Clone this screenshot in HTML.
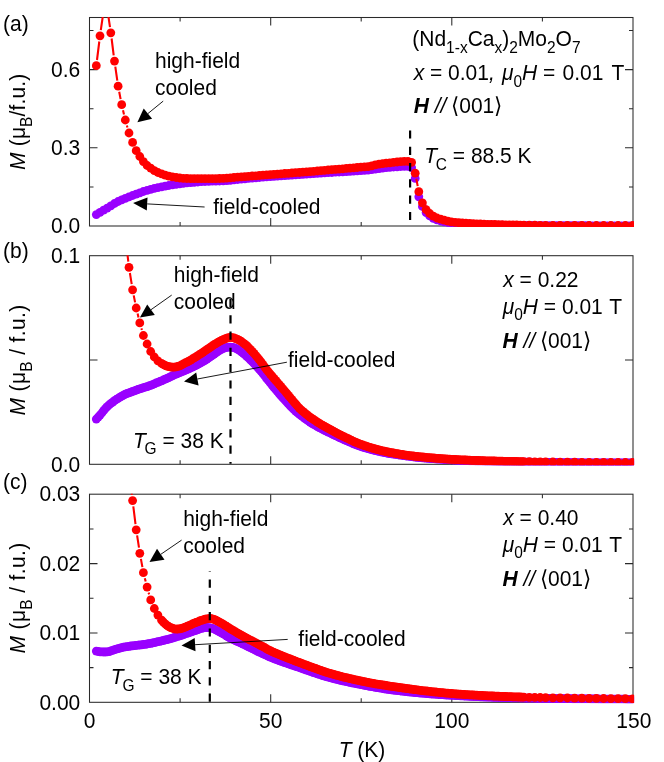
<!DOCTYPE html>
<html><head><meta charset="utf-8"><title>M-T</title>
<style>html,body{margin:0;padding:0;background:#fff}body{width:664px;height:762px;overflow:hidden;font-family:"Liberation Sans",sans-serif}</style>
</head><body>
<svg width="664" height="762" viewBox="0 0 664 762" style="display:block;will-change:transform">
<rect width="664" height="762" fill="#fff"/>
<defs>
<clipPath id="c0"><rect x="89.00" y="17.00" width="545.10" height="210.00"/></clipPath>
<clipPath id="c1"><rect x="89.00" y="255.20" width="545.10" height="210.10"/></clipPath>
<clipPath id="c2"><rect x="89.00" y="493.70" width="545.10" height="209.60"/></clipPath>
</defs>
<g stroke="#2a2a2a" stroke-width="1.05" fill="none"><rect x="89.5" y="17.5" width="543.5" height="208.5" fill="none"/><path d="M180.1 226.0v-4.0M180.1 17.5v4.0"/><path d="M270.7 226.0v-8.0M270.7 17.5v8.0"/><path d="M361.2 226.0v-4.0M361.2 17.5v4.0"/><path d="M451.8 226.0v-8.0M451.8 17.5v8.0"/><path d="M542.4 226.0v-4.0M542.4 17.5v4.0"/><path d="M89.5 147.8h8M633.0 147.8h-8"/><path d="M89.5 69.6h8M633.0 69.6h-8"/><path d="M89.5 186.9h4M633.0 186.9h-4"/><path d="M89.5 108.7h4M633.0 108.7h-4"/><path d="M89.5 30.5h4M633.0 30.5h-4"/></g>
<g stroke="#2a2a2a" stroke-width="1.05" fill="none"><rect x="89.5" y="255.7" width="543.5" height="208.6" fill="none"/><path d="M180.1 464.3v-4.0M180.1 255.7v4.0"/><path d="M270.7 464.3v-8.0M270.7 255.7v8.0"/><path d="M361.2 464.3v-4.0M361.2 255.7v4.0"/><path d="M451.8 464.3v-8.0M451.8 255.7v8.0"/><path d="M542.4 464.3v-4.0M542.4 255.7v4.0"/><path d="M89.5 360.0h8M633.0 360.0h-8"/></g>
<g stroke="#2a2a2a" stroke-width="1.05" fill="none"><rect x="89.5" y="494.2" width="543.5" height="208.1" fill="none"/><path d="M180.1 702.3v-4.0M180.1 494.2v4.0"/><path d="M270.7 702.3v-8.0M270.7 494.2v8.0"/><path d="M361.2 702.3v-4.0M361.2 494.2v4.0"/><path d="M451.8 702.3v-8.0M451.8 494.2v8.0"/><path d="M542.4 702.3v-4.0M542.4 494.2v4.0"/><path d="M89.5 632.9h8M633.0 632.9h-8"/><path d="M89.5 563.6h8M633.0 563.6h-8"/><path d="M89.5 667.6h4M633.0 667.6h-4"/><path d="M89.5 598.2h4M633.0 598.2h-4"/><path d="M89.5 528.9h4M633.0 528.9h-4"/></g>
<g clip-path="url(#c0)">
<g fill="#9900ff"><circle cx="96.3" cy="214.6" r="4.4"/><circle cx="100.0" cy="212.3" r="4.4"/><circle cx="103.6" cy="210.1" r="4.4"/><circle cx="107.2" cy="208.1" r="4.4"/><circle cx="110.8" cy="205.9" r="4.4"/><circle cx="114.5" cy="203.5" r="4.4"/><circle cx="118.1" cy="201.5" r="4.4"/><circle cx="121.7" cy="199.8" r="4.4"/><circle cx="125.3" cy="198.3" r="4.4"/><circle cx="129.0" cy="196.8" r="4.4"/><circle cx="132.6" cy="195.5" r="4.4"/><circle cx="136.2" cy="194.1" r="4.4"/><circle cx="139.8" cy="192.8" r="4.4"/><circle cx="143.4" cy="191.5" r="4.4"/><circle cx="147.1" cy="190.3" r="4.4"/><circle cx="150.7" cy="189.3" r="4.4"/><circle cx="154.3" cy="188.4" r="4.4"/><circle cx="157.9" cy="187.6" r="4.4"/><circle cx="161.6" cy="186.9" r="4.4"/><circle cx="165.2" cy="186.2" r="4.4"/><circle cx="168.8" cy="185.5" r="4.4"/><circle cx="172.4" cy="184.9" r="4.4"/><circle cx="176.1" cy="184.3" r="4.4"/><circle cx="179.7" cy="183.8" r="4.4"/><circle cx="183.3" cy="183.3" r="4.4"/><circle cx="186.9" cy="182.9" r="4.4"/><circle cx="190.6" cy="182.6" r="4.4"/><circle cx="194.2" cy="182.3" r="4.4"/><circle cx="197.8" cy="182.0" r="4.4"/><circle cx="201.4" cy="181.7" r="4.4"/><circle cx="205.0" cy="181.5" r="4.4"/><circle cx="208.7" cy="181.4" r="4.4"/><circle cx="212.3" cy="181.2" r="4.4"/><circle cx="215.9" cy="181.1" r="4.4"/><circle cx="219.5" cy="181.0" r="4.4"/><circle cx="223.2" cy="180.8" r="4.4"/><circle cx="226.8" cy="180.6" r="4.4"/><circle cx="230.4" cy="180.3" r="4.4"/><circle cx="234.0" cy="179.9" r="4.4"/><circle cx="237.7" cy="179.5" r="4.4"/><circle cx="241.3" cy="179.1" r="4.4"/><circle cx="244.9" cy="178.8" r="4.4"/><circle cx="248.5" cy="178.4" r="4.4"/><circle cx="252.2" cy="178.1" r="4.4"/><circle cx="255.8" cy="177.8" r="4.4"/><circle cx="259.4" cy="177.5" r="4.4"/><circle cx="263.0" cy="177.2" r="4.4"/><circle cx="266.6" cy="176.9" r="4.4"/><circle cx="270.3" cy="176.6" r="4.4"/><circle cx="273.9" cy="176.4" r="4.4"/><circle cx="277.5" cy="176.1" r="4.4"/><circle cx="281.1" cy="175.8" r="4.4"/><circle cx="284.8" cy="175.6" r="4.4"/><circle cx="288.4" cy="175.3" r="4.4"/><circle cx="292.0" cy="175.1" r="4.4"/><circle cx="295.6" cy="174.8" r="4.4"/><circle cx="299.3" cy="174.6" r="4.4"/><circle cx="302.9" cy="174.3" r="4.4"/><circle cx="306.5" cy="174.1" r="4.4"/><circle cx="310.1" cy="173.9" r="4.4"/><circle cx="313.7" cy="173.6" r="4.4"/><circle cx="317.4" cy="173.4" r="4.4"/><circle cx="321.0" cy="173.2" r="4.4"/><circle cx="324.6" cy="172.9" r="4.4"/><circle cx="328.2" cy="172.7" r="4.4"/><circle cx="331.9" cy="172.5" r="4.4"/><circle cx="335.5" cy="172.2" r="4.4"/><circle cx="339.1" cy="172.0" r="4.4"/><circle cx="342.7" cy="171.8" r="4.4"/><circle cx="346.4" cy="171.6" r="4.4"/><circle cx="350.0" cy="171.4" r="4.4"/><circle cx="353.6" cy="171.2" r="4.4"/><circle cx="357.2" cy="170.9" r="4.4"/><circle cx="360.9" cy="170.7" r="4.4"/><circle cx="364.5" cy="170.4" r="4.4"/><circle cx="368.1" cy="170.2" r="4.4"/><circle cx="371.7" cy="169.7" r="4.4"/><circle cx="375.3" cy="169.1" r="4.4"/><circle cx="379.0" cy="168.6" r="4.4"/><circle cx="382.6" cy="168.1" r="4.4"/><circle cx="386.2" cy="167.7" r="4.4"/><circle cx="389.8" cy="167.3" r="4.4"/><circle cx="393.5" cy="167.0" r="4.4"/><circle cx="397.1" cy="166.8" r="4.4"/><circle cx="400.7" cy="166.5" r="4.4"/><circle cx="404.3" cy="166.4" r="4.4"/><circle cx="408.0" cy="166.3" r="4.4"/><circle cx="411.6" cy="167.7" r="4.4"/><circle cx="415.2" cy="178.4" r="4.4"/><circle cx="418.8" cy="196.8" r="4.4"/><circle cx="422.4" cy="206.5" r="4.4"/><circle cx="426.1" cy="212.6" r="4.4"/><circle cx="429.7" cy="215.9" r="4.4"/><circle cx="433.3" cy="218.3" r="4.4"/><circle cx="436.9" cy="219.9" r="4.4"/><circle cx="440.6" cy="221.0" r="4.4"/><circle cx="444.2" cy="221.8" r="4.4"/><circle cx="447.8" cy="222.5" r="4.4"/><circle cx="451.4" cy="223.1" r="4.4"/><circle cx="455.1" cy="223.4" r="4.4"/><circle cx="458.7" cy="223.7" r="4.4"/><circle cx="462.3" cy="223.9" r="4.4"/><circle cx="465.9" cy="224.1" r="4.4"/><circle cx="469.6" cy="224.3" r="4.4"/><circle cx="473.2" cy="224.5" r="4.4"/><circle cx="476.8" cy="224.6" r="4.4"/><circle cx="480.4" cy="224.7" r="4.4"/><circle cx="484.0" cy="224.8" r="4.4"/><circle cx="487.7" cy="224.9" r="4.4"/><circle cx="491.3" cy="225.0" r="4.4"/><circle cx="494.9" cy="225.1" r="4.4"/><circle cx="498.5" cy="225.1" r="4.4"/><circle cx="502.2" cy="225.2" r="4.4"/><circle cx="505.8" cy="225.3" r="4.4"/><circle cx="509.4" cy="225.3" r="4.4"/><circle cx="513.0" cy="225.4" r="4.4"/><circle cx="516.7" cy="225.4" r="4.4"/><circle cx="520.3" cy="225.5" r="4.4"/><circle cx="523.9" cy="225.5" r="4.4"/><circle cx="527.5" cy="225.5" r="4.4"/><circle cx="531.1" cy="225.5" r="4.4"/><circle cx="534.8" cy="225.5" r="4.4"/><circle cx="538.4" cy="225.6" r="4.4"/><circle cx="542.0" cy="225.6" r="4.4"/><circle cx="545.6" cy="225.6" r="4.4"/><circle cx="549.3" cy="225.6" r="4.4"/><circle cx="552.9" cy="225.6" r="4.4"/><circle cx="556.5" cy="225.6" r="4.4"/><circle cx="560.1" cy="225.7" r="4.4"/><circle cx="563.8" cy="225.7" r="4.4"/><circle cx="567.4" cy="225.7" r="4.4"/><circle cx="571.0" cy="225.7" r="4.4"/><circle cx="574.6" cy="225.7" r="4.4"/><circle cx="578.3" cy="225.7" r="4.4"/><circle cx="581.9" cy="225.7" r="4.4"/><circle cx="585.5" cy="225.7" r="4.4"/><circle cx="589.1" cy="225.7" r="4.4"/><circle cx="592.7" cy="225.8" r="4.4"/><circle cx="596.4" cy="225.8" r="4.4"/><circle cx="600.0" cy="225.8" r="4.4"/><circle cx="603.6" cy="225.8" r="4.4"/><circle cx="607.2" cy="225.8" r="4.4"/><circle cx="610.9" cy="225.8" r="4.4"/><circle cx="614.5" cy="225.8" r="4.4"/><circle cx="618.1" cy="225.8" r="4.4"/><circle cx="621.7" cy="225.8" r="4.4"/><circle cx="625.4" cy="225.8" r="4.4"/><circle cx="629.0" cy="225.8" r="4.4"/><circle cx="632.6" cy="225.8" r="4.4"/></g>
<path d="M97.0 60.0L99.3 41.5M100.8 30.2L102.8 16.4M108.1 14.4L110.0 27.2M111.6 38.5L113.7 55.4M115.3 66.7L117.3 80.6M119.2 91.8L120.6 99.1M123.0 110.2L124.0 114.5M126.9 125.5L127.4 127.5M416.3 178.8L417.7 186.1" fill="none" stroke="#ff0000" stroke-width="2.1"/>
<g fill="#ff0000"><circle cx="96.3" cy="65.7" r="4.4"/><circle cx="100.0" cy="35.8" r="4.4"/><circle cx="103.6" cy="10.8" r="4.4"/><circle cx="107.2" cy="8.8" r="4.4"/><circle cx="110.8" cy="32.8" r="4.4"/><circle cx="114.5" cy="61.1" r="4.4"/><circle cx="118.1" cy="86.2" r="4.4"/><circle cx="121.7" cy="104.7" r="4.4"/><circle cx="125.3" cy="120.0" r="4.4"/><circle cx="129.0" cy="133.0" r="4.4"/><circle cx="132.6" cy="142.4" r="4.4"/><circle cx="136.2" cy="150.7" r="4.4"/><circle cx="139.8" cy="156.5" r="4.4"/><circle cx="143.4" cy="161.6" r="4.4"/><circle cx="147.1" cy="165.5" r="4.4"/><circle cx="150.7" cy="168.1" r="4.4"/><circle cx="154.3" cy="170.6" r="4.4"/><circle cx="157.9" cy="172.5" r="4.4"/><circle cx="161.6" cy="173.9" r="4.4"/><circle cx="165.2" cy="175.1" r="4.4"/><circle cx="168.8" cy="176.1" r="4.4"/><circle cx="172.4" cy="176.9" r="4.4"/><circle cx="176.1" cy="177.5" r="4.4"/><circle cx="179.7" cy="178.0" r="4.4"/><circle cx="183.3" cy="178.3" r="4.4"/><circle cx="186.9" cy="178.5" r="4.4"/><circle cx="190.6" cy="178.6" r="4.4"/><circle cx="194.2" cy="178.7" r="4.4"/><circle cx="197.8" cy="178.7" r="4.4"/><circle cx="201.4" cy="178.7" r="4.4"/><circle cx="205.0" cy="178.7" r="4.4"/><circle cx="208.7" cy="178.7" r="4.4"/><circle cx="212.3" cy="178.7" r="4.4"/><circle cx="215.9" cy="178.7" r="4.4"/><circle cx="219.5" cy="178.5" r="4.4"/><circle cx="223.2" cy="178.3" r="4.4"/><circle cx="226.8" cy="178.1" r="4.4"/><circle cx="230.4" cy="177.8" r="4.4"/><circle cx="234.0" cy="177.5" r="4.4"/><circle cx="237.7" cy="177.2" r="4.4"/><circle cx="241.3" cy="176.9" r="4.4"/><circle cx="244.9" cy="176.6" r="4.4"/><circle cx="248.5" cy="176.3" r="4.4"/><circle cx="252.2" cy="176.0" r="4.4"/><circle cx="255.8" cy="175.8" r="4.4"/><circle cx="259.4" cy="175.5" r="4.4"/><circle cx="263.0" cy="175.2" r="4.4"/><circle cx="266.6" cy="174.9" r="4.4"/><circle cx="270.3" cy="174.6" r="4.4"/><circle cx="273.9" cy="174.4" r="4.4"/><circle cx="277.5" cy="174.1" r="4.4"/><circle cx="281.1" cy="173.8" r="4.4"/><circle cx="284.8" cy="173.5" r="4.4"/><circle cx="288.4" cy="173.3" r="4.4"/><circle cx="292.0" cy="173.0" r="4.4"/><circle cx="295.6" cy="172.7" r="4.4"/><circle cx="299.3" cy="172.5" r="4.4"/><circle cx="302.9" cy="172.2" r="4.4"/><circle cx="306.5" cy="171.9" r="4.4"/><circle cx="310.1" cy="171.6" r="4.4"/><circle cx="313.7" cy="171.3" r="4.4"/><circle cx="317.4" cy="171.0" r="4.4"/><circle cx="321.0" cy="170.7" r="4.4"/><circle cx="324.6" cy="170.3" r="4.4"/><circle cx="328.2" cy="170.0" r="4.4"/><circle cx="331.9" cy="169.7" r="4.4"/><circle cx="335.5" cy="169.4" r="4.4"/><circle cx="339.1" cy="169.1" r="4.4"/><circle cx="342.7" cy="168.8" r="4.4"/><circle cx="346.4" cy="168.4" r="4.4"/><circle cx="350.0" cy="168.1" r="4.4"/><circle cx="353.6" cy="167.8" r="4.4"/><circle cx="357.2" cy="167.5" r="4.4"/><circle cx="360.9" cy="167.2" r="4.4"/><circle cx="364.5" cy="166.9" r="4.4"/><circle cx="368.1" cy="166.6" r="4.4"/><circle cx="371.7" cy="165.8" r="4.4"/><circle cx="375.3" cy="164.9" r="4.4"/><circle cx="379.0" cy="164.2" r="4.4"/><circle cx="382.6" cy="163.7" r="4.4"/><circle cx="386.2" cy="163.2" r="4.4"/><circle cx="389.8" cy="162.8" r="4.4"/><circle cx="393.5" cy="162.4" r="4.4"/><circle cx="397.1" cy="162.0" r="4.4"/><circle cx="400.7" cy="161.7" r="4.4"/><circle cx="404.3" cy="161.4" r="4.4"/><circle cx="408.0" cy="161.3" r="4.4"/><circle cx="411.6" cy="162.3" r="4.4"/><circle cx="415.2" cy="173.2" r="4.4"/><circle cx="418.8" cy="191.7" r="4.4"/><circle cx="422.4" cy="202.8" r="4.4"/><circle cx="426.1" cy="209.7" r="4.4"/><circle cx="429.7" cy="213.5" r="4.4"/><circle cx="433.3" cy="216.1" r="4.4"/><circle cx="436.9" cy="218.0" r="4.4"/><circle cx="440.6" cy="219.2" r="4.4"/><circle cx="444.2" cy="220.2" r="4.4"/><circle cx="447.8" cy="221.2" r="4.4"/><circle cx="451.4" cy="221.9" r="4.4"/><circle cx="455.1" cy="222.4" r="4.4"/><circle cx="458.7" cy="222.7" r="4.4"/><circle cx="462.3" cy="223.0" r="4.4"/><circle cx="465.9" cy="223.2" r="4.4"/><circle cx="469.6" cy="223.5" r="4.4"/><circle cx="473.2" cy="223.7" r="4.4"/><circle cx="476.8" cy="223.9" r="4.4"/><circle cx="480.4" cy="224.0" r="4.4"/><circle cx="484.0" cy="224.1" r="4.4"/><circle cx="487.7" cy="224.3" r="4.4"/><circle cx="491.3" cy="224.4" r="4.4"/><circle cx="494.9" cy="224.5" r="4.4"/><circle cx="498.5" cy="224.6" r="4.4"/><circle cx="502.2" cy="224.7" r="4.4"/><circle cx="505.8" cy="224.8" r="4.4"/><circle cx="509.4" cy="224.9" r="4.4"/><circle cx="513.0" cy="225.0" r="4.4"/><circle cx="516.7" cy="225.0" r="4.4"/><circle cx="520.3" cy="225.1" r="4.4"/><circle cx="523.9" cy="225.2" r="4.4"/><circle cx="529.3" cy="225.2" r="4.4"/><circle cx="534.8" cy="225.2" r="4.4"/><circle cx="540.2" cy="225.3" r="4.4"/><circle cx="545.6" cy="225.3" r="4.4"/><circle cx="552.9" cy="225.3" r="4.4"/><circle cx="560.1" cy="225.4" r="4.4"/><circle cx="567.4" cy="225.4" r="4.4"/><circle cx="574.6" cy="225.4" r="4.4"/><circle cx="581.9" cy="225.4" r="4.4"/><circle cx="589.1" cy="225.5" r="4.4"/><circle cx="596.4" cy="225.5" r="4.4"/><circle cx="603.6" cy="225.5" r="4.4"/><circle cx="610.9" cy="225.5" r="4.4"/><circle cx="618.1" cy="225.5" r="4.4"/><circle cx="625.4" cy="225.5" r="4.4"/><circle cx="632.6" cy="225.5" r="4.4"/></g>
</g>
<g clip-path="url(#c1)">
<g fill="#9900ff"><circle cx="96.3" cy="419.1" r="4.4"/><circle cx="98.2" cy="417.1" r="4.4"/><circle cx="100.0" cy="415.1" r="4.4"/><circle cx="101.8" cy="413.0" r="4.4"/><circle cx="103.6" cy="410.7" r="4.4"/><circle cx="105.4" cy="408.5" r="4.4"/><circle cx="107.2" cy="406.7" r="4.4"/><circle cx="109.0" cy="405.0" r="4.4"/><circle cx="110.8" cy="403.5" r="4.4"/><circle cx="112.7" cy="402.1" r="4.4"/><circle cx="114.5" cy="400.7" r="4.4"/><circle cx="116.3" cy="399.5" r="4.4"/><circle cx="118.1" cy="398.3" r="4.4"/><circle cx="119.9" cy="397.1" r="4.4"/><circle cx="121.7" cy="396.1" r="4.4"/><circle cx="123.5" cy="395.1" r="4.4"/><circle cx="125.3" cy="394.2" r="4.4"/><circle cx="127.1" cy="393.5" r="4.4"/><circle cx="129.0" cy="392.8" r="4.4"/><circle cx="130.8" cy="392.1" r="4.4"/><circle cx="132.6" cy="391.4" r="4.4"/><circle cx="134.4" cy="390.8" r="4.4"/><circle cx="136.2" cy="390.1" r="4.4"/><circle cx="138.0" cy="389.5" r="4.4"/><circle cx="139.8" cy="388.9" r="4.4"/><circle cx="141.6" cy="388.3" r="4.4"/><circle cx="143.4" cy="387.7" r="4.4"/><circle cx="145.3" cy="387.2" r="4.4"/><circle cx="147.1" cy="386.6" r="4.4"/><circle cx="148.9" cy="386.0" r="4.4"/><circle cx="150.7" cy="385.3" r="4.4"/><circle cx="152.5" cy="384.6" r="4.4"/><circle cx="154.3" cy="383.8" r="4.4"/><circle cx="156.1" cy="383.0" r="4.4"/><circle cx="157.9" cy="382.3" r="4.4"/><circle cx="159.8" cy="381.5" r="4.4"/><circle cx="161.6" cy="380.8" r="4.4"/><circle cx="163.4" cy="380.0" r="4.4"/><circle cx="165.2" cy="379.2" r="4.4"/><circle cx="167.0" cy="378.4" r="4.4"/><circle cx="168.8" cy="377.6" r="4.4"/><circle cx="170.6" cy="376.7" r="4.4"/><circle cx="172.4" cy="375.8" r="4.4"/><circle cx="174.2" cy="374.9" r="4.4"/><circle cx="176.1" cy="374.1" r="4.4"/><circle cx="177.9" cy="373.4" r="4.4"/><circle cx="179.7" cy="372.6" r="4.4"/><circle cx="181.5" cy="371.9" r="4.4"/><circle cx="183.3" cy="371.2" r="4.4"/><circle cx="185.1" cy="370.4" r="4.4"/><circle cx="186.9" cy="369.6" r="4.4"/><circle cx="188.7" cy="368.8" r="4.4"/><circle cx="190.6" cy="368.0" r="4.4"/><circle cx="192.4" cy="367.1" r="4.4"/><circle cx="194.2" cy="366.2" r="4.4"/><circle cx="196.0" cy="365.3" r="4.4"/><circle cx="197.8" cy="364.4" r="4.4"/><circle cx="199.6" cy="363.5" r="4.4"/><circle cx="201.4" cy="362.5" r="4.4"/><circle cx="203.2" cy="361.4" r="4.4"/><circle cx="205.0" cy="360.3" r="4.4"/><circle cx="206.9" cy="359.1" r="4.4"/><circle cx="208.7" cy="357.9" r="4.4"/><circle cx="210.5" cy="356.7" r="4.4"/><circle cx="212.3" cy="355.5" r="4.4"/><circle cx="214.1" cy="354.2" r="4.4"/><circle cx="215.9" cy="353.0" r="4.4"/><circle cx="217.7" cy="351.7" r="4.4"/><circle cx="219.5" cy="350.4" r="4.4"/><circle cx="221.4" cy="349.3" r="4.4"/><circle cx="223.2" cy="348.5" r="4.4"/><circle cx="225.0" cy="347.9" r="4.4"/><circle cx="226.8" cy="347.4" r="4.4"/><circle cx="228.6" cy="347.2" r="4.4"/><circle cx="230.4" cy="347.1" r="4.4"/><circle cx="232.2" cy="347.3" r="4.4"/><circle cx="234.0" cy="347.7" r="4.4"/><circle cx="235.8" cy="348.4" r="4.4"/><circle cx="237.7" cy="349.4" r="4.4"/><circle cx="239.5" cy="350.5" r="4.4"/><circle cx="241.3" cy="351.8" r="4.4"/><circle cx="243.1" cy="353.2" r="4.4"/><circle cx="244.9" cy="354.7" r="4.4"/><circle cx="246.7" cy="356.3" r="4.4"/><circle cx="248.5" cy="358.0" r="4.4"/><circle cx="250.3" cy="359.8" r="4.4"/><circle cx="252.2" cy="361.6" r="4.4"/><circle cx="254.0" cy="363.5" r="4.4"/><circle cx="255.8" cy="365.4" r="4.4"/><circle cx="257.6" cy="367.4" r="4.4"/><circle cx="259.4" cy="369.4" r="4.4"/><circle cx="261.2" cy="371.5" r="4.4"/><circle cx="263.0" cy="373.7" r="4.4"/><circle cx="264.8" cy="376.0" r="4.4"/><circle cx="266.6" cy="378.4" r="4.4"/><circle cx="268.5" cy="380.7" r="4.4"/><circle cx="270.3" cy="382.9" r="4.4"/><circle cx="272.1" cy="385.2" r="4.4"/><circle cx="273.9" cy="387.4" r="4.4"/><circle cx="275.7" cy="389.5" r="4.4"/><circle cx="277.5" cy="391.7" r="4.4"/><circle cx="279.3" cy="393.8" r="4.4"/><circle cx="281.1" cy="395.9" r="4.4"/><circle cx="282.9" cy="397.9" r="4.4"/><circle cx="284.8" cy="400.0" r="4.4"/><circle cx="286.6" cy="402.0" r="4.4"/><circle cx="288.4" cy="403.9" r="4.4"/><circle cx="290.2" cy="405.8" r="4.4"/><circle cx="292.0" cy="407.7" r="4.4"/><circle cx="293.8" cy="409.5" r="4.4"/><circle cx="295.6" cy="411.1" r="4.4"/><circle cx="297.4" cy="412.7" r="4.4"/><circle cx="299.3" cy="414.2" r="4.4"/><circle cx="301.1" cy="415.6" r="4.4"/><circle cx="302.9" cy="417.0" r="4.4"/><circle cx="304.7" cy="418.3" r="4.4"/><circle cx="306.5" cy="419.6" r="4.4"/><circle cx="308.3" cy="420.9" r="4.4"/><circle cx="310.1" cy="422.1" r="4.4"/><circle cx="311.9" cy="423.3" r="4.4"/><circle cx="313.7" cy="424.4" r="4.4"/><circle cx="315.6" cy="425.5" r="4.4"/><circle cx="317.4" cy="426.6" r="4.4"/><circle cx="319.2" cy="427.6" r="4.4"/><circle cx="321.0" cy="428.5" r="4.4"/><circle cx="322.8" cy="429.4" r="4.4"/><circle cx="324.6" cy="430.4" r="4.4"/><circle cx="326.4" cy="431.2" r="4.4"/><circle cx="328.2" cy="432.1" r="4.4"/><circle cx="330.1" cy="433.0" r="4.4"/><circle cx="331.9" cy="433.9" r="4.4"/><circle cx="333.7" cy="434.8" r="4.4"/><circle cx="335.5" cy="435.7" r="4.4"/><circle cx="337.3" cy="436.5" r="4.4"/><circle cx="339.1" cy="437.3" r="4.4"/><circle cx="340.9" cy="438.2" r="4.4"/><circle cx="342.7" cy="439.0" r="4.4"/><circle cx="344.5" cy="439.8" r="4.4"/><circle cx="346.4" cy="440.6" r="4.4"/><circle cx="348.2" cy="441.4" r="4.4"/><circle cx="350.0" cy="442.2" r="4.4"/><circle cx="351.8" cy="443.0" r="4.4"/><circle cx="353.6" cy="443.8" r="4.4"/><circle cx="355.4" cy="444.5" r="4.4"/><circle cx="357.2" cy="445.2" r="4.4"/><circle cx="359.0" cy="445.9" r="4.4"/><circle cx="360.9" cy="446.5" r="4.4"/><circle cx="362.7" cy="447.1" r="4.4"/><circle cx="364.5" cy="447.6" r="4.4"/><circle cx="366.3" cy="448.2" r="4.4"/><circle cx="368.1" cy="448.7" r="4.4"/><circle cx="369.9" cy="449.2" r="4.4"/><circle cx="371.7" cy="449.7" r="4.4"/><circle cx="373.5" cy="450.1" r="4.4"/><circle cx="375.3" cy="450.6" r="4.4"/><circle cx="377.2" cy="451.0" r="4.4"/><circle cx="379.0" cy="451.4" r="4.4"/><circle cx="380.8" cy="451.8" r="4.4"/><circle cx="382.6" cy="452.2" r="4.4"/><circle cx="384.4" cy="452.6" r="4.4"/><circle cx="386.2" cy="452.9" r="4.4"/><circle cx="388.0" cy="453.3" r="4.4"/><circle cx="389.8" cy="453.6" r="4.4"/><circle cx="391.6" cy="453.9" r="4.4"/><circle cx="393.5" cy="454.2" r="4.4"/><circle cx="395.3" cy="454.4" r="4.4"/><circle cx="397.1" cy="454.7" r="4.4"/><circle cx="398.9" cy="455.0" r="4.4"/><circle cx="400.7" cy="455.2" r="4.4"/><circle cx="402.5" cy="455.5" r="4.4"/><circle cx="404.3" cy="455.7" r="4.4"/><circle cx="406.1" cy="456.0" r="4.4"/><circle cx="408.0" cy="456.2" r="4.4"/><circle cx="409.8" cy="456.4" r="4.4"/><circle cx="411.6" cy="456.6" r="4.4"/><circle cx="413.4" cy="456.9" r="4.4"/><circle cx="415.2" cy="457.1" r="4.4"/><circle cx="417.0" cy="457.3" r="4.4"/><circle cx="418.8" cy="457.5" r="4.4"/><circle cx="420.6" cy="457.7" r="4.4"/><circle cx="422.4" cy="457.8" r="4.4"/><circle cx="424.3" cy="458.0" r="4.4"/><circle cx="426.1" cy="458.2" r="4.4"/><circle cx="427.9" cy="458.3" r="4.4"/><circle cx="429.7" cy="458.5" r="4.4"/><circle cx="431.5" cy="458.6" r="4.4"/><circle cx="433.3" cy="458.7" r="4.4"/><circle cx="435.1" cy="458.9" r="4.4"/><circle cx="436.9" cy="459.0" r="4.4"/><circle cx="438.8" cy="459.1" r="4.4"/><circle cx="440.6" cy="459.2" r="4.4"/><circle cx="442.4" cy="459.3" r="4.4"/><circle cx="444.2" cy="459.5" r="4.4"/><circle cx="446.0" cy="459.6" r="4.4"/><circle cx="447.8" cy="459.7" r="4.4"/><circle cx="449.6" cy="459.8" r="4.4"/><circle cx="451.4" cy="459.9" r="4.4"/><circle cx="453.2" cy="460.0" r="4.4"/><circle cx="455.1" cy="460.1" r="4.4"/><circle cx="456.9" cy="460.2" r="4.4"/><circle cx="458.7" cy="460.3" r="4.4"/><circle cx="460.5" cy="460.4" r="4.4"/><circle cx="462.3" cy="460.5" r="4.4"/><circle cx="464.1" cy="460.6" r="4.4"/><circle cx="465.9" cy="460.6" r="4.4"/><circle cx="467.7" cy="460.7" r="4.4"/><circle cx="469.6" cy="460.8" r="4.4"/><circle cx="471.4" cy="460.9" r="4.4"/><circle cx="473.2" cy="460.9" r="4.4"/><circle cx="475.0" cy="461.0" r="4.4"/><circle cx="476.8" cy="461.1" r="4.4"/><circle cx="478.6" cy="461.1" r="4.4"/><circle cx="480.4" cy="461.2" r="4.4"/><circle cx="482.2" cy="461.2" r="4.4"/><circle cx="484.0" cy="461.3" r="4.4"/><circle cx="485.9" cy="461.3" r="4.4"/><circle cx="487.7" cy="461.4" r="4.4"/><circle cx="489.5" cy="461.4" r="4.4"/><circle cx="491.3" cy="461.5" r="4.4"/><circle cx="493.1" cy="461.5" r="4.4"/><circle cx="494.9" cy="461.6" r="4.4"/><circle cx="496.7" cy="461.6" r="4.4"/><circle cx="498.5" cy="461.7" r="4.4"/><circle cx="500.3" cy="461.7" r="4.4"/><circle cx="502.2" cy="461.8" r="4.4"/><circle cx="504.0" cy="461.8" r="4.4"/><circle cx="505.8" cy="461.8" r="4.4"/><circle cx="507.6" cy="461.9" r="4.4"/><circle cx="509.4" cy="461.9" r="4.4"/><circle cx="511.2" cy="462.0" r="4.4"/><circle cx="513.0" cy="462.0" r="4.4"/><circle cx="514.8" cy="462.0" r="4.4"/><circle cx="516.7" cy="462.1" r="4.4"/><circle cx="518.5" cy="462.1" r="4.4"/><circle cx="520.3" cy="462.1" r="4.4"/><circle cx="522.1" cy="462.1" r="4.4"/><circle cx="523.9" cy="462.2" r="4.4"/><circle cx="525.7" cy="462.2" r="4.4"/><circle cx="527.5" cy="462.2" r="4.4"/><circle cx="529.3" cy="462.2" r="4.4"/><circle cx="531.1" cy="462.2" r="4.4"/><circle cx="533.0" cy="462.3" r="4.4"/><circle cx="534.8" cy="462.3" r="4.4"/><circle cx="536.6" cy="462.3" r="4.4"/><circle cx="538.4" cy="462.3" r="4.4"/><circle cx="540.2" cy="462.4" r="4.4"/><circle cx="542.0" cy="462.4" r="4.4"/><circle cx="543.8" cy="462.4" r="4.4"/><circle cx="545.6" cy="462.4" r="4.4"/><circle cx="547.5" cy="462.4" r="4.4"/><circle cx="549.3" cy="462.5" r="4.4"/><circle cx="551.1" cy="462.5" r="4.4"/><circle cx="552.9" cy="462.5" r="4.4"/><circle cx="554.7" cy="462.5" r="4.4"/><circle cx="556.5" cy="462.5" r="4.4"/><circle cx="558.3" cy="462.6" r="4.4"/><circle cx="560.1" cy="462.6" r="4.4"/><circle cx="561.9" cy="462.6" r="4.4"/><circle cx="563.8" cy="462.6" r="4.4"/><circle cx="565.6" cy="462.6" r="4.4"/><circle cx="567.4" cy="462.6" r="4.4"/><circle cx="569.2" cy="462.7" r="4.4"/><circle cx="571.0" cy="462.7" r="4.4"/><circle cx="572.8" cy="462.7" r="4.4"/><circle cx="574.6" cy="462.7" r="4.4"/><circle cx="576.4" cy="462.7" r="4.4"/><circle cx="578.3" cy="462.7" r="4.4"/><circle cx="580.1" cy="462.8" r="4.4"/><circle cx="581.9" cy="462.8" r="4.4"/><circle cx="583.7" cy="462.8" r="4.4"/><circle cx="585.5" cy="462.8" r="4.4"/><circle cx="587.3" cy="462.8" r="4.4"/><circle cx="589.1" cy="462.8" r="4.4"/><circle cx="590.9" cy="462.8" r="4.4"/><circle cx="592.7" cy="462.9" r="4.4"/><circle cx="594.6" cy="462.9" r="4.4"/><circle cx="596.4" cy="462.9" r="4.4"/><circle cx="598.2" cy="462.9" r="4.4"/><circle cx="600.0" cy="462.9" r="4.4"/><circle cx="601.8" cy="462.9" r="4.4"/><circle cx="603.6" cy="462.9" r="4.4"/><circle cx="605.4" cy="462.9" r="4.4"/><circle cx="607.2" cy="462.9" r="4.4"/><circle cx="609.0" cy="462.9" r="4.4"/><circle cx="610.9" cy="463.0" r="4.4"/><circle cx="612.7" cy="463.0" r="4.4"/><circle cx="614.5" cy="463.0" r="4.4"/><circle cx="616.3" cy="463.0" r="4.4"/><circle cx="618.1" cy="463.0" r="4.4"/><circle cx="619.9" cy="463.0" r="4.4"/><circle cx="621.7" cy="463.0" r="4.4"/><circle cx="623.5" cy="463.0" r="4.4"/><circle cx="625.4" cy="463.0" r="4.4"/><circle cx="627.2" cy="463.0" r="4.4"/><circle cx="629.0" cy="463.0" r="4.4"/><circle cx="630.8" cy="463.0" r="4.4"/><circle cx="632.6" cy="463.0" r="4.4"/></g>
<path d="M126.0 241.7L128.3 261.7M129.9 273.0L131.7 284.2M133.7 295.4L135.1 302.4M137.6 313.5L138.5 317.4M141.4 328.4L141.9 330.0" fill="none" stroke="#ff0000" stroke-width="2.1"/>
<g fill="#ff0000"><circle cx="125.3" cy="236.0" r="4.4"/><circle cx="129.0" cy="267.4" r="4.4"/><circle cx="132.6" cy="289.8" r="4.4"/><circle cx="136.2" cy="308.0" r="4.4"/><circle cx="139.8" cy="322.9" r="4.4"/><circle cx="143.4" cy="335.5" r="4.4"/><circle cx="147.1" cy="344.0" r="4.4"/><circle cx="150.7" cy="351.5" r="4.4"/><circle cx="154.3" cy="357.0" r="4.4"/><circle cx="157.9" cy="360.8" r="4.4"/><circle cx="161.6" cy="363.5" r="4.4"/><circle cx="163.4" cy="364.5" r="4.4"/><circle cx="165.2" cy="365.5" r="4.4"/><circle cx="167.0" cy="366.2" r="4.4"/><circle cx="168.8" cy="366.7" r="4.4"/><circle cx="170.6" cy="367.0" r="4.4"/><circle cx="172.4" cy="367.2" r="4.4"/><circle cx="174.2" cy="367.1" r="4.4"/><circle cx="176.1" cy="366.8" r="4.4"/><circle cx="177.9" cy="366.4" r="4.4"/><circle cx="179.7" cy="365.9" r="4.4"/><circle cx="181.5" cy="365.0" r="4.4"/><circle cx="183.3" cy="364.0" r="4.4"/><circle cx="185.1" cy="363.0" r="4.4"/><circle cx="186.9" cy="362.1" r="4.4"/><circle cx="188.7" cy="361.1" r="4.4"/><circle cx="190.6" cy="360.1" r="4.4"/><circle cx="192.4" cy="359.0" r="4.4"/><circle cx="194.2" cy="357.9" r="4.4"/><circle cx="196.0" cy="356.8" r="4.4"/><circle cx="197.8" cy="355.6" r="4.4"/><circle cx="199.6" cy="354.5" r="4.4"/><circle cx="201.4" cy="353.3" r="4.4"/><circle cx="203.2" cy="352.1" r="4.4"/><circle cx="205.0" cy="350.8" r="4.4"/><circle cx="206.9" cy="349.6" r="4.4"/><circle cx="208.7" cy="348.4" r="4.4"/><circle cx="210.5" cy="347.1" r="4.4"/><circle cx="212.3" cy="345.9" r="4.4"/><circle cx="214.1" cy="344.7" r="4.4"/><circle cx="215.9" cy="343.6" r="4.4"/><circle cx="217.7" cy="342.5" r="4.4"/><circle cx="219.5" cy="341.5" r="4.4"/><circle cx="221.4" cy="340.5" r="4.4"/><circle cx="223.2" cy="339.7" r="4.4"/><circle cx="225.0" cy="338.8" r="4.4"/><circle cx="226.8" cy="338.2" r="4.4"/><circle cx="228.6" cy="337.7" r="4.4"/><circle cx="230.4" cy="337.4" r="4.4"/><circle cx="232.2" cy="337.6" r="4.4"/><circle cx="234.0" cy="338.0" r="4.4"/><circle cx="235.8" cy="338.6" r="4.4"/><circle cx="237.7" cy="339.4" r="4.4"/><circle cx="239.5" cy="340.4" r="4.4"/><circle cx="241.3" cy="341.5" r="4.4"/><circle cx="243.1" cy="342.8" r="4.4"/><circle cx="244.9" cy="344.2" r="4.4"/><circle cx="246.7" cy="345.7" r="4.4"/><circle cx="248.5" cy="347.5" r="4.4"/><circle cx="250.3" cy="349.4" r="4.4"/><circle cx="252.2" cy="351.4" r="4.4"/><circle cx="254.0" cy="353.4" r="4.4"/><circle cx="255.8" cy="355.5" r="4.4"/><circle cx="257.6" cy="357.7" r="4.4"/><circle cx="259.4" cy="359.9" r="4.4"/><circle cx="261.2" cy="362.2" r="4.4"/><circle cx="263.0" cy="364.6" r="4.4"/><circle cx="264.8" cy="367.1" r="4.4"/><circle cx="266.6" cy="369.6" r="4.4"/><circle cx="268.5" cy="371.9" r="4.4"/><circle cx="270.3" cy="374.1" r="4.4"/><circle cx="272.1" cy="376.2" r="4.4"/><circle cx="273.9" cy="378.3" r="4.4"/><circle cx="275.7" cy="380.4" r="4.4"/><circle cx="277.5" cy="382.5" r="4.4"/><circle cx="279.3" cy="384.6" r="4.4"/><circle cx="281.1" cy="386.7" r="4.4"/><circle cx="282.9" cy="388.9" r="4.4"/><circle cx="284.8" cy="391.0" r="4.4"/><circle cx="286.6" cy="393.2" r="4.4"/><circle cx="288.4" cy="395.3" r="4.4"/><circle cx="290.2" cy="397.5" r="4.4"/><circle cx="292.0" cy="399.7" r="4.4"/><circle cx="293.8" cy="401.8" r="4.4"/><circle cx="295.6" cy="403.9" r="4.4"/><circle cx="297.4" cy="406.0" r="4.4"/><circle cx="299.3" cy="408.1" r="4.4"/><circle cx="301.1" cy="409.8" r="4.4"/><circle cx="302.9" cy="411.4" r="4.4"/><circle cx="304.7" cy="412.9" r="4.4"/><circle cx="306.5" cy="414.4" r="4.4"/><circle cx="308.3" cy="415.8" r="4.4"/><circle cx="310.1" cy="417.1" r="4.4"/><circle cx="311.9" cy="418.4" r="4.4"/><circle cx="313.7" cy="419.7" r="4.4"/><circle cx="315.6" cy="420.9" r="4.4"/><circle cx="317.4" cy="422.1" r="4.4"/><circle cx="319.2" cy="423.2" r="4.4"/><circle cx="321.0" cy="424.3" r="4.4"/><circle cx="322.8" cy="425.4" r="4.4"/><circle cx="324.6" cy="426.4" r="4.4"/><circle cx="326.4" cy="427.4" r="4.4"/><circle cx="328.2" cy="428.4" r="4.4"/><circle cx="330.1" cy="429.4" r="4.4"/><circle cx="331.9" cy="430.4" r="4.4"/><circle cx="333.7" cy="431.4" r="4.4"/><circle cx="335.5" cy="432.4" r="4.4"/><circle cx="337.3" cy="433.3" r="4.4"/><circle cx="339.1" cy="434.3" r="4.4"/><circle cx="340.9" cy="435.2" r="4.4"/><circle cx="342.7" cy="436.1" r="4.4"/><circle cx="344.5" cy="437.0" r="4.4"/><circle cx="346.4" cy="437.9" r="4.4"/><circle cx="348.2" cy="438.7" r="4.4"/><circle cx="350.0" cy="439.6" r="4.4"/><circle cx="351.8" cy="440.5" r="4.4"/><circle cx="353.6" cy="441.3" r="4.4"/><circle cx="355.4" cy="442.1" r="4.4"/><circle cx="357.2" cy="442.9" r="4.4"/><circle cx="359.0" cy="443.6" r="4.4"/><circle cx="360.9" cy="444.3" r="4.4"/><circle cx="362.7" cy="445.0" r="4.4"/><circle cx="364.5" cy="445.6" r="4.4"/><circle cx="366.3" cy="446.2" r="4.4"/><circle cx="368.1" cy="446.8" r="4.4"/><circle cx="369.9" cy="447.4" r="4.4"/><circle cx="371.7" cy="448.0" r="4.4"/><circle cx="373.5" cy="448.5" r="4.4"/><circle cx="375.3" cy="449.0" r="4.4"/><circle cx="377.2" cy="449.5" r="4.4"/><circle cx="379.0" cy="449.9" r="4.4"/><circle cx="380.8" cy="450.4" r="4.4"/><circle cx="382.6" cy="450.8" r="4.4"/><circle cx="384.4" cy="451.2" r="4.4"/><circle cx="386.2" cy="451.6" r="4.4"/><circle cx="388.0" cy="452.0" r="4.4"/><circle cx="389.8" cy="452.4" r="4.4"/><circle cx="391.6" cy="452.7" r="4.4"/><circle cx="393.5" cy="453.0" r="4.4"/><circle cx="395.3" cy="453.4" r="4.4"/><circle cx="397.1" cy="453.7" r="4.4"/><circle cx="398.9" cy="454.0" r="4.4"/><circle cx="400.7" cy="454.3" r="4.4"/><circle cx="402.5" cy="454.5" r="4.4"/><circle cx="404.3" cy="454.8" r="4.4"/><circle cx="406.1" cy="455.1" r="4.4"/><circle cx="408.0" cy="455.3" r="4.4"/><circle cx="409.8" cy="455.6" r="4.4"/><circle cx="411.6" cy="455.8" r="4.4"/><circle cx="413.4" cy="456.0" r="4.4"/><circle cx="415.2" cy="456.3" r="4.4"/><circle cx="417.0" cy="456.5" r="4.4"/><circle cx="418.8" cy="456.7" r="4.4"/><circle cx="420.6" cy="456.9" r="4.4"/><circle cx="422.4" cy="457.0" r="4.4"/><circle cx="424.3" cy="457.2" r="4.4"/><circle cx="426.1" cy="457.4" r="4.4"/><circle cx="427.9" cy="457.6" r="4.4"/><circle cx="429.7" cy="457.7" r="4.4"/><circle cx="431.5" cy="457.9" r="4.4"/><circle cx="433.3" cy="458.0" r="4.4"/><circle cx="435.1" cy="458.2" r="4.4"/><circle cx="436.9" cy="458.3" r="4.4"/><circle cx="438.8" cy="458.4" r="4.4"/><circle cx="440.6" cy="458.6" r="4.4"/><circle cx="442.4" cy="458.7" r="4.4"/><circle cx="444.2" cy="458.8" r="4.4"/><circle cx="446.0" cy="458.9" r="4.4"/><circle cx="447.8" cy="459.1" r="4.4"/><circle cx="449.6" cy="459.2" r="4.4"/><circle cx="451.4" cy="459.3" r="4.4"/><circle cx="453.2" cy="459.4" r="4.4"/><circle cx="455.1" cy="459.5" r="4.4"/><circle cx="456.9" cy="459.6" r="4.4"/><circle cx="458.7" cy="459.7" r="4.4"/><circle cx="460.5" cy="459.8" r="4.4"/><circle cx="462.3" cy="459.9" r="4.4"/><circle cx="464.1" cy="460.0" r="4.4"/><circle cx="465.9" cy="460.0" r="4.4"/><circle cx="467.7" cy="460.1" r="4.4"/><circle cx="469.6" cy="460.2" r="4.4"/><circle cx="471.4" cy="460.3" r="4.4"/><circle cx="473.2" cy="460.3" r="4.4"/><circle cx="475.0" cy="460.4" r="4.4"/><circle cx="476.8" cy="460.5" r="4.4"/><circle cx="478.6" cy="460.5" r="4.4"/><circle cx="480.4" cy="460.6" r="4.4"/><circle cx="482.2" cy="460.6" r="4.4"/><circle cx="484.0" cy="460.7" r="4.4"/><circle cx="485.9" cy="460.8" r="4.4"/><circle cx="487.7" cy="460.8" r="4.4"/><circle cx="489.5" cy="460.9" r="4.4"/><circle cx="491.3" cy="460.9" r="4.4"/><circle cx="493.1" cy="461.0" r="4.4"/><circle cx="494.9" cy="461.0" r="4.4"/><circle cx="496.7" cy="461.1" r="4.4"/><circle cx="498.5" cy="461.1" r="4.4"/><circle cx="500.3" cy="461.2" r="4.4"/><circle cx="502.2" cy="461.2" r="4.4"/><circle cx="504.0" cy="461.3" r="4.4"/><circle cx="505.8" cy="461.3" r="4.4"/><circle cx="507.6" cy="461.4" r="4.4"/><circle cx="509.4" cy="461.4" r="4.4"/><circle cx="511.2" cy="461.4" r="4.4"/><circle cx="513.0" cy="461.5" r="4.4"/><circle cx="514.8" cy="461.5" r="4.4"/><circle cx="516.7" cy="461.5" r="4.4"/><circle cx="518.5" cy="461.6" r="4.4"/><circle cx="520.3" cy="461.6" r="4.4"/><circle cx="522.1" cy="461.6" r="4.4"/><circle cx="523.9" cy="461.7" r="4.4"/><circle cx="529.3" cy="461.7" r="4.4"/><circle cx="534.8" cy="461.8" r="4.4"/><circle cx="540.2" cy="461.9" r="4.4"/><circle cx="545.6" cy="461.9" r="4.4"/><circle cx="552.9" cy="462.0" r="4.4"/><circle cx="560.1" cy="462.1" r="4.4"/><circle cx="567.4" cy="462.2" r="4.4"/><circle cx="574.6" cy="462.2" r="4.4"/><circle cx="581.9" cy="462.3" r="4.4"/><circle cx="589.1" cy="462.3" r="4.4"/><circle cx="596.4" cy="462.4" r="4.4"/><circle cx="603.6" cy="462.4" r="4.4"/><circle cx="610.9" cy="462.5" r="4.4"/><circle cx="618.1" cy="462.5" r="4.4"/><circle cx="625.4" cy="462.5" r="4.4"/><circle cx="632.6" cy="462.5" r="4.4"/></g>
</g>
<g clip-path="url(#c2)">
<g fill="#9900ff"><circle cx="96.3" cy="651.1" r="4.4"/><circle cx="98.2" cy="651.5" r="4.4"/><circle cx="100.0" cy="651.8" r="4.4"/><circle cx="101.8" cy="651.9" r="4.4"/><circle cx="103.6" cy="652.0" r="4.4"/><circle cx="105.4" cy="652.0" r="4.4"/><circle cx="107.2" cy="651.9" r="4.4"/><circle cx="109.0" cy="651.6" r="4.4"/><circle cx="110.8" cy="651.0" r="4.4"/><circle cx="112.7" cy="650.3" r="4.4"/><circle cx="114.5" cy="649.7" r="4.4"/><circle cx="116.3" cy="649.2" r="4.4"/><circle cx="118.1" cy="648.6" r="4.4"/><circle cx="119.9" cy="648.1" r="4.4"/><circle cx="121.7" cy="647.6" r="4.4"/><circle cx="123.5" cy="647.2" r="4.4"/><circle cx="125.3" cy="646.9" r="4.4"/><circle cx="127.1" cy="646.6" r="4.4"/><circle cx="129.0" cy="646.3" r="4.4"/><circle cx="130.8" cy="646.0" r="4.4"/><circle cx="132.6" cy="645.8" r="4.4"/><circle cx="134.4" cy="645.6" r="4.4"/><circle cx="136.2" cy="645.4" r="4.4"/><circle cx="138.0" cy="645.2" r="4.4"/><circle cx="139.8" cy="645.0" r="4.4"/><circle cx="141.6" cy="644.8" r="4.4"/><circle cx="143.4" cy="644.5" r="4.4"/><circle cx="145.3" cy="644.3" r="4.4"/><circle cx="147.1" cy="644.0" r="4.4"/><circle cx="148.9" cy="643.7" r="4.4"/><circle cx="150.7" cy="643.4" r="4.4"/><circle cx="152.5" cy="643.0" r="4.4"/><circle cx="154.3" cy="642.6" r="4.4"/><circle cx="156.1" cy="642.2" r="4.4"/><circle cx="157.9" cy="641.7" r="4.4"/><circle cx="159.8" cy="641.3" r="4.4"/><circle cx="161.6" cy="640.9" r="4.4"/><circle cx="163.4" cy="640.5" r="4.4"/><circle cx="165.2" cy="640.0" r="4.4"/><circle cx="167.0" cy="639.6" r="4.4"/><circle cx="168.8" cy="639.1" r="4.4"/><circle cx="170.6" cy="638.6" r="4.4"/><circle cx="172.4" cy="638.1" r="4.4"/><circle cx="174.2" cy="637.5" r="4.4"/><circle cx="176.1" cy="637.0" r="4.4"/><circle cx="177.9" cy="636.4" r="4.4"/><circle cx="179.7" cy="635.8" r="4.4"/><circle cx="181.5" cy="635.3" r="4.4"/><circle cx="183.3" cy="634.6" r="4.4"/><circle cx="185.1" cy="634.0" r="4.4"/><circle cx="186.9" cy="633.4" r="4.4"/><circle cx="188.7" cy="632.8" r="4.4"/><circle cx="190.6" cy="632.1" r="4.4"/><circle cx="192.4" cy="631.5" r="4.4"/><circle cx="194.2" cy="630.9" r="4.4"/><circle cx="196.0" cy="630.3" r="4.4"/><circle cx="197.8" cy="629.6" r="4.4"/><circle cx="199.6" cy="629.0" r="4.4"/><circle cx="201.4" cy="628.4" r="4.4"/><circle cx="203.2" cy="628.0" r="4.4"/><circle cx="205.0" cy="627.6" r="4.4"/><circle cx="206.9" cy="627.5" r="4.4"/><circle cx="208.7" cy="627.6" r="4.4"/><circle cx="210.5" cy="627.8" r="4.4"/><circle cx="212.3" cy="628.3" r="4.4"/><circle cx="214.1" cy="629.0" r="4.4"/><circle cx="215.9" cy="629.9" r="4.4"/><circle cx="217.7" cy="630.9" r="4.4"/><circle cx="219.5" cy="631.9" r="4.4"/><circle cx="221.4" cy="632.9" r="4.4"/><circle cx="223.2" cy="633.9" r="4.4"/><circle cx="225.0" cy="635.0" r="4.4"/><circle cx="226.8" cy="636.1" r="4.4"/><circle cx="228.6" cy="637.1" r="4.4"/><circle cx="230.4" cy="638.1" r="4.4"/><circle cx="232.2" cy="639.0" r="4.4"/><circle cx="234.0" cy="639.9" r="4.4"/><circle cx="235.8" cy="640.8" r="4.4"/><circle cx="237.7" cy="641.6" r="4.4"/><circle cx="239.5" cy="642.4" r="4.4"/><circle cx="241.3" cy="643.2" r="4.4"/><circle cx="243.1" cy="644.1" r="4.4"/><circle cx="244.9" cy="645.0" r="4.4"/><circle cx="246.7" cy="645.8" r="4.4"/><circle cx="248.5" cy="646.8" r="4.4"/><circle cx="250.3" cy="647.7" r="4.4"/><circle cx="252.2" cy="648.6" r="4.4"/><circle cx="254.0" cy="649.5" r="4.4"/><circle cx="255.8" cy="650.4" r="4.4"/><circle cx="257.6" cy="651.3" r="4.4"/><circle cx="259.4" cy="652.2" r="4.4"/><circle cx="261.2" cy="653.0" r="4.4"/><circle cx="263.0" cy="653.9" r="4.4"/><circle cx="264.8" cy="654.7" r="4.4"/><circle cx="266.6" cy="655.5" r="4.4"/><circle cx="268.5" cy="656.3" r="4.4"/><circle cx="270.3" cy="657.1" r="4.4"/><circle cx="272.1" cy="657.9" r="4.4"/><circle cx="273.9" cy="658.6" r="4.4"/><circle cx="275.7" cy="659.3" r="4.4"/><circle cx="277.5" cy="660.0" r="4.4"/><circle cx="279.3" cy="660.6" r="4.4"/><circle cx="281.1" cy="661.3" r="4.4"/><circle cx="282.9" cy="662.0" r="4.4"/><circle cx="284.8" cy="662.6" r="4.4"/><circle cx="286.6" cy="663.2" r="4.4"/><circle cx="288.4" cy="663.9" r="4.4"/><circle cx="290.2" cy="664.5" r="4.4"/><circle cx="292.0" cy="665.1" r="4.4"/><circle cx="293.8" cy="665.7" r="4.4"/><circle cx="295.6" cy="666.3" r="4.4"/><circle cx="297.4" cy="666.9" r="4.4"/><circle cx="299.3" cy="667.5" r="4.4"/><circle cx="301.1" cy="668.2" r="4.4"/><circle cx="302.9" cy="668.8" r="4.4"/><circle cx="304.7" cy="669.4" r="4.4"/><circle cx="306.5" cy="670.1" r="4.4"/><circle cx="308.3" cy="670.7" r="4.4"/><circle cx="310.1" cy="671.3" r="4.4"/><circle cx="311.9" cy="672.0" r="4.4"/><circle cx="313.7" cy="672.6" r="4.4"/><circle cx="315.6" cy="673.2" r="4.4"/><circle cx="317.4" cy="673.8" r="4.4"/><circle cx="319.2" cy="674.4" r="4.4"/><circle cx="321.0" cy="675.0" r="4.4"/><circle cx="322.8" cy="675.6" r="4.4"/><circle cx="324.6" cy="676.1" r="4.4"/><circle cx="326.4" cy="676.7" r="4.4"/><circle cx="328.2" cy="677.2" r="4.4"/><circle cx="330.1" cy="677.7" r="4.4"/><circle cx="331.9" cy="678.2" r="4.4"/><circle cx="333.7" cy="678.7" r="4.4"/><circle cx="335.5" cy="679.1" r="4.4"/><circle cx="337.3" cy="679.5" r="4.4"/><circle cx="339.1" cy="680.0" r="4.4"/><circle cx="340.9" cy="680.4" r="4.4"/><circle cx="342.7" cy="680.8" r="4.4"/><circle cx="344.5" cy="681.2" r="4.4"/><circle cx="346.4" cy="681.6" r="4.4"/><circle cx="348.2" cy="682.0" r="4.4"/><circle cx="350.0" cy="682.4" r="4.4"/><circle cx="351.8" cy="682.8" r="4.4"/><circle cx="353.6" cy="683.1" r="4.4"/><circle cx="355.4" cy="683.5" r="4.4"/><circle cx="357.2" cy="683.9" r="4.4"/><circle cx="359.0" cy="684.2" r="4.4"/><circle cx="360.9" cy="684.6" r="4.4"/><circle cx="362.7" cy="684.9" r="4.4"/><circle cx="364.5" cy="685.3" r="4.4"/><circle cx="366.3" cy="685.6" r="4.4"/><circle cx="368.1" cy="686.0" r="4.4"/><circle cx="369.9" cy="686.3" r="4.4"/><circle cx="371.7" cy="686.6" r="4.4"/><circle cx="373.5" cy="686.9" r="4.4"/><circle cx="375.3" cy="687.3" r="4.4"/><circle cx="377.2" cy="687.6" r="4.4"/><circle cx="379.0" cy="687.9" r="4.4"/><circle cx="380.8" cy="688.2" r="4.4"/><circle cx="382.6" cy="688.5" r="4.4"/><circle cx="384.4" cy="688.8" r="4.4"/><circle cx="386.2" cy="689.1" r="4.4"/><circle cx="388.0" cy="689.3" r="4.4"/><circle cx="389.8" cy="689.6" r="4.4"/><circle cx="391.6" cy="689.8" r="4.4"/><circle cx="393.5" cy="690.1" r="4.4"/><circle cx="395.3" cy="690.3" r="4.4"/><circle cx="397.1" cy="690.5" r="4.4"/><circle cx="398.9" cy="690.7" r="4.4"/><circle cx="400.7" cy="691.0" r="4.4"/><circle cx="402.5" cy="691.2" r="4.4"/><circle cx="404.3" cy="691.4" r="4.4"/><circle cx="406.1" cy="691.6" r="4.4"/><circle cx="408.0" cy="691.8" r="4.4"/><circle cx="409.8" cy="692.0" r="4.4"/><circle cx="411.6" cy="692.2" r="4.4"/><circle cx="413.4" cy="692.4" r="4.4"/><circle cx="415.2" cy="692.6" r="4.4"/><circle cx="417.0" cy="692.7" r="4.4"/><circle cx="418.8" cy="692.9" r="4.4"/><circle cx="420.6" cy="693.1" r="4.4"/><circle cx="422.4" cy="693.2" r="4.4"/><circle cx="424.3" cy="693.4" r="4.4"/><circle cx="426.1" cy="693.5" r="4.4"/><circle cx="427.9" cy="693.7" r="4.4"/><circle cx="429.7" cy="693.8" r="4.4"/><circle cx="431.5" cy="694.0" r="4.4"/><circle cx="433.3" cy="694.1" r="4.4"/><circle cx="435.1" cy="694.2" r="4.4"/><circle cx="436.9" cy="694.4" r="4.4"/><circle cx="438.8" cy="694.5" r="4.4"/><circle cx="440.6" cy="694.6" r="4.4"/><circle cx="442.4" cy="694.7" r="4.4"/><circle cx="444.2" cy="694.8" r="4.4"/><circle cx="446.0" cy="695.0" r="4.4"/><circle cx="447.8" cy="695.1" r="4.4"/><circle cx="449.6" cy="695.2" r="4.4"/><circle cx="451.4" cy="695.3" r="4.4"/><circle cx="453.2" cy="695.4" r="4.4"/><circle cx="455.1" cy="695.5" r="4.4"/><circle cx="456.9" cy="695.6" r="4.4"/><circle cx="458.7" cy="695.7" r="4.4"/><circle cx="460.5" cy="695.8" r="4.4"/><circle cx="462.3" cy="695.9" r="4.4"/><circle cx="464.1" cy="696.0" r="4.4"/><circle cx="465.9" cy="696.1" r="4.4"/><circle cx="467.7" cy="696.2" r="4.4"/><circle cx="469.6" cy="696.3" r="4.4"/><circle cx="471.4" cy="696.4" r="4.4"/><circle cx="473.2" cy="696.5" r="4.4"/><circle cx="475.0" cy="696.5" r="4.4"/><circle cx="476.8" cy="696.6" r="4.4"/><circle cx="478.6" cy="696.7" r="4.4"/><circle cx="480.4" cy="696.8" r="4.4"/><circle cx="482.2" cy="696.9" r="4.4"/><circle cx="484.0" cy="697.0" r="4.4"/><circle cx="485.9" cy="697.0" r="4.4"/><circle cx="487.7" cy="697.1" r="4.4"/><circle cx="489.5" cy="697.2" r="4.4"/><circle cx="491.3" cy="697.2" r="4.4"/><circle cx="493.1" cy="697.3" r="4.4"/><circle cx="494.9" cy="697.4" r="4.4"/><circle cx="496.7" cy="697.4" r="4.4"/><circle cx="498.5" cy="697.5" r="4.4"/><circle cx="500.3" cy="697.5" r="4.4"/><circle cx="502.2" cy="697.6" r="4.4"/><circle cx="504.0" cy="697.6" r="4.4"/><circle cx="505.8" cy="697.6" r="4.4"/><circle cx="507.6" cy="697.7" r="4.4"/><circle cx="509.4" cy="697.7" r="4.4"/><circle cx="511.2" cy="697.8" r="4.4"/><circle cx="513.0" cy="697.8" r="4.4"/><circle cx="514.8" cy="697.9" r="4.4"/><circle cx="516.7" cy="697.9" r="4.4"/><circle cx="518.5" cy="697.9" r="4.4"/><circle cx="520.3" cy="698.0" r="4.4"/><circle cx="522.1" cy="698.0" r="4.4"/><circle cx="523.9" cy="698.0" r="4.4"/><circle cx="525.7" cy="698.1" r="4.4"/><circle cx="527.5" cy="698.1" r="4.4"/><circle cx="529.3" cy="698.1" r="4.4"/><circle cx="531.1" cy="698.2" r="4.4"/><circle cx="533.0" cy="698.2" r="4.4"/><circle cx="534.8" cy="698.2" r="4.4"/><circle cx="536.6" cy="698.3" r="4.4"/><circle cx="538.4" cy="698.3" r="4.4"/><circle cx="540.2" cy="698.3" r="4.4"/><circle cx="542.0" cy="698.4" r="4.4"/><circle cx="543.8" cy="698.4" r="4.4"/><circle cx="545.6" cy="698.4" r="4.4"/><circle cx="547.5" cy="698.4" r="4.4"/><circle cx="549.3" cy="698.5" r="4.4"/><circle cx="551.1" cy="698.5" r="4.4"/><circle cx="552.9" cy="698.5" r="4.4"/><circle cx="554.7" cy="698.5" r="4.4"/><circle cx="556.5" cy="698.6" r="4.4"/><circle cx="558.3" cy="698.6" r="4.4"/><circle cx="560.1" cy="698.6" r="4.4"/><circle cx="561.9" cy="698.6" r="4.4"/><circle cx="563.8" cy="698.6" r="4.4"/><circle cx="565.6" cy="698.7" r="4.4"/><circle cx="567.4" cy="698.7" r="4.4"/><circle cx="569.2" cy="698.7" r="4.4"/><circle cx="571.0" cy="698.7" r="4.4"/><circle cx="572.8" cy="698.8" r="4.4"/><circle cx="574.6" cy="698.8" r="4.4"/><circle cx="576.4" cy="698.8" r="4.4"/><circle cx="578.3" cy="698.8" r="4.4"/><circle cx="580.1" cy="698.8" r="4.4"/><circle cx="581.9" cy="698.9" r="4.4"/><circle cx="583.7" cy="698.9" r="4.4"/><circle cx="585.5" cy="698.9" r="4.4"/><circle cx="587.3" cy="698.9" r="4.4"/><circle cx="589.1" cy="698.9" r="4.4"/><circle cx="590.9" cy="699.0" r="4.4"/><circle cx="592.7" cy="699.0" r="4.4"/><circle cx="594.6" cy="699.0" r="4.4"/><circle cx="596.4" cy="699.0" r="4.4"/><circle cx="598.2" cy="699.0" r="4.4"/><circle cx="600.0" cy="699.1" r="4.4"/><circle cx="601.8" cy="699.1" r="4.4"/><circle cx="603.6" cy="699.1" r="4.4"/><circle cx="605.4" cy="699.1" r="4.4"/><circle cx="607.2" cy="699.1" r="4.4"/><circle cx="609.0" cy="699.1" r="4.4"/><circle cx="610.9" cy="699.2" r="4.4"/><circle cx="612.7" cy="699.2" r="4.4"/><circle cx="614.5" cy="699.2" r="4.4"/><circle cx="616.3" cy="699.2" r="4.4"/><circle cx="618.1" cy="699.2" r="4.4"/><circle cx="619.9" cy="699.2" r="4.4"/><circle cx="621.7" cy="699.2" r="4.4"/><circle cx="623.5" cy="699.2" r="4.4"/><circle cx="625.4" cy="699.3" r="4.4"/><circle cx="627.2" cy="699.3" r="4.4"/><circle cx="629.0" cy="699.3" r="4.4"/><circle cx="630.8" cy="699.3" r="4.4"/><circle cx="632.6" cy="699.3" r="4.4"/></g>
<path d="M129.6 475.7L131.9 494.9M133.3 506.3L135.5 524.1M137.1 535.4L139.0 547.7M140.9 558.9L142.4 567.1M144.8 578.2L145.7 581.6M148.6 592.6L149.1 594.4" fill="none" stroke="#ff0000" stroke-width="2.1"/>
<g fill="#ff0000"><circle cx="129.0" cy="470.0" r="4.4"/><circle cx="132.6" cy="500.6" r="4.4"/><circle cx="136.2" cy="529.8" r="4.4"/><circle cx="139.8" cy="553.3" r="4.4"/><circle cx="143.4" cy="572.7" r="4.4"/><circle cx="147.1" cy="587.1" r="4.4"/><circle cx="150.7" cy="599.9" r="4.4"/><circle cx="154.3" cy="608.5" r="4.4"/><circle cx="157.9" cy="615.1" r="4.4"/><circle cx="161.6" cy="620.2" r="4.4"/><circle cx="163.4" cy="622.2" r="4.4"/><circle cx="165.2" cy="623.8" r="4.4"/><circle cx="167.0" cy="625.3" r="4.4"/><circle cx="168.8" cy="626.6" r="4.4"/><circle cx="170.6" cy="627.6" r="4.4"/><circle cx="172.4" cy="628.2" r="4.4"/><circle cx="174.2" cy="628.8" r="4.4"/><circle cx="176.1" cy="629.1" r="4.4"/><circle cx="177.9" cy="629.0" r="4.4"/><circle cx="179.7" cy="628.8" r="4.4"/><circle cx="181.5" cy="628.5" r="4.4"/><circle cx="183.3" cy="627.9" r="4.4"/><circle cx="185.1" cy="627.2" r="4.4"/><circle cx="186.9" cy="626.5" r="4.4"/><circle cx="188.7" cy="625.7" r="4.4"/><circle cx="190.6" cy="624.9" r="4.4"/><circle cx="192.4" cy="624.0" r="4.4"/><circle cx="194.2" cy="623.2" r="4.4"/><circle cx="196.0" cy="622.5" r="4.4"/><circle cx="197.8" cy="621.8" r="4.4"/><circle cx="199.6" cy="621.0" r="4.4"/><circle cx="201.4" cy="620.4" r="4.4"/><circle cx="203.2" cy="619.8" r="4.4"/><circle cx="205.0" cy="619.2" r="4.4"/><circle cx="206.9" cy="618.8" r="4.4"/><circle cx="208.7" cy="618.6" r="4.4"/><circle cx="210.5" cy="618.5" r="4.4"/><circle cx="212.3" cy="618.9" r="4.4"/><circle cx="214.1" cy="619.4" r="4.4"/><circle cx="215.9" cy="620.2" r="4.4"/><circle cx="217.7" cy="621.1" r="4.4"/><circle cx="219.5" cy="622.2" r="4.4"/><circle cx="221.4" cy="623.2" r="4.4"/><circle cx="223.2" cy="624.2" r="4.4"/><circle cx="225.0" cy="625.4" r="4.4"/><circle cx="226.8" cy="626.5" r="4.4"/><circle cx="228.6" cy="627.7" r="4.4"/><circle cx="230.4" cy="628.8" r="4.4"/><circle cx="232.2" cy="629.9" r="4.4"/><circle cx="234.0" cy="631.0" r="4.4"/><circle cx="235.8" cy="632.0" r="4.4"/><circle cx="237.7" cy="633.1" r="4.4"/><circle cx="239.5" cy="634.1" r="4.4"/><circle cx="241.3" cy="635.1" r="4.4"/><circle cx="243.1" cy="636.1" r="4.4"/><circle cx="244.9" cy="637.1" r="4.4"/><circle cx="246.7" cy="638.1" r="4.4"/><circle cx="248.5" cy="639.1" r="4.4"/><circle cx="250.3" cy="640.1" r="4.4"/><circle cx="252.2" cy="641.0" r="4.4"/><circle cx="254.0" cy="642.0" r="4.4"/><circle cx="255.8" cy="642.9" r="4.4"/><circle cx="257.6" cy="643.9" r="4.4"/><circle cx="259.4" cy="644.8" r="4.4"/><circle cx="261.2" cy="645.8" r="4.4"/><circle cx="263.0" cy="646.7" r="4.4"/><circle cx="264.8" cy="647.7" r="4.4"/><circle cx="266.6" cy="648.8" r="4.4"/><circle cx="268.5" cy="649.8" r="4.4"/><circle cx="270.3" cy="650.7" r="4.4"/><circle cx="272.1" cy="651.6" r="4.4"/><circle cx="273.9" cy="652.4" r="4.4"/><circle cx="275.7" cy="653.2" r="4.4"/><circle cx="277.5" cy="653.9" r="4.4"/><circle cx="279.3" cy="654.7" r="4.4"/><circle cx="281.1" cy="655.4" r="4.4"/><circle cx="282.9" cy="656.2" r="4.4"/><circle cx="284.8" cy="656.9" r="4.4"/><circle cx="286.6" cy="657.6" r="4.4"/><circle cx="288.4" cy="658.3" r="4.4"/><circle cx="290.2" cy="659.0" r="4.4"/><circle cx="292.0" cy="659.7" r="4.4"/><circle cx="293.8" cy="660.4" r="4.4"/><circle cx="295.6" cy="661.1" r="4.4"/><circle cx="297.4" cy="661.8" r="4.4"/><circle cx="299.3" cy="662.5" r="4.4"/><circle cx="301.1" cy="663.2" r="4.4"/><circle cx="302.9" cy="663.9" r="4.4"/><circle cx="304.7" cy="664.6" r="4.4"/><circle cx="306.5" cy="665.2" r="4.4"/><circle cx="308.3" cy="665.9" r="4.4"/><circle cx="310.1" cy="666.6" r="4.4"/><circle cx="311.9" cy="667.2" r="4.4"/><circle cx="313.7" cy="667.9" r="4.4"/><circle cx="315.6" cy="668.5" r="4.4"/><circle cx="317.4" cy="669.1" r="4.4"/><circle cx="319.2" cy="669.8" r="4.4"/><circle cx="321.0" cy="670.4" r="4.4"/><circle cx="322.8" cy="671.1" r="4.4"/><circle cx="324.6" cy="671.7" r="4.4"/><circle cx="326.4" cy="672.3" r="4.4"/><circle cx="328.2" cy="672.9" r="4.4"/><circle cx="330.1" cy="673.4" r="4.4"/><circle cx="331.9" cy="673.9" r="4.4"/><circle cx="333.7" cy="674.5" r="4.4"/><circle cx="335.5" cy="675.0" r="4.4"/><circle cx="337.3" cy="675.4" r="4.4"/><circle cx="339.1" cy="675.9" r="4.4"/><circle cx="340.9" cy="676.4" r="4.4"/><circle cx="342.7" cy="676.8" r="4.4"/><circle cx="344.5" cy="677.3" r="4.4"/><circle cx="346.4" cy="677.7" r="4.4"/><circle cx="348.2" cy="678.2" r="4.4"/><circle cx="350.0" cy="678.6" r="4.4"/><circle cx="351.8" cy="679.0" r="4.4"/><circle cx="353.6" cy="679.4" r="4.4"/><circle cx="355.4" cy="679.8" r="4.4"/><circle cx="357.2" cy="680.2" r="4.4"/><circle cx="359.0" cy="680.6" r="4.4"/><circle cx="360.9" cy="681.0" r="4.4"/><circle cx="362.7" cy="681.3" r="4.4"/><circle cx="364.5" cy="681.7" r="4.4"/><circle cx="366.3" cy="682.1" r="4.4"/><circle cx="368.1" cy="682.4" r="4.4"/><circle cx="369.9" cy="682.8" r="4.4"/><circle cx="371.7" cy="683.1" r="4.4"/><circle cx="373.5" cy="683.4" r="4.4"/><circle cx="375.3" cy="683.8" r="4.4"/><circle cx="377.2" cy="684.1" r="4.4"/><circle cx="379.0" cy="684.4" r="4.4"/><circle cx="380.8" cy="684.7" r="4.4"/><circle cx="382.6" cy="685.0" r="4.4"/><circle cx="384.4" cy="685.2" r="4.4"/><circle cx="386.2" cy="685.5" r="4.4"/><circle cx="388.0" cy="685.8" r="4.4"/><circle cx="389.8" cy="686.1" r="4.4"/><circle cx="391.6" cy="686.4" r="4.4"/><circle cx="393.5" cy="686.6" r="4.4"/><circle cx="395.3" cy="686.9" r="4.4"/><circle cx="397.1" cy="687.2" r="4.4"/><circle cx="398.9" cy="687.4" r="4.4"/><circle cx="400.7" cy="687.7" r="4.4"/><circle cx="402.5" cy="688.0" r="4.4"/><circle cx="404.3" cy="688.2" r="4.4"/><circle cx="406.1" cy="688.5" r="4.4"/><circle cx="408.0" cy="688.7" r="4.4"/><circle cx="409.8" cy="689.0" r="4.4"/><circle cx="411.6" cy="689.2" r="4.4"/><circle cx="413.4" cy="689.5" r="4.4"/><circle cx="415.2" cy="689.7" r="4.4"/><circle cx="417.0" cy="689.9" r="4.4"/><circle cx="418.8" cy="690.2" r="4.4"/><circle cx="420.6" cy="690.4" r="4.4"/><circle cx="422.4" cy="690.6" r="4.4"/><circle cx="424.3" cy="690.8" r="4.4"/><circle cx="426.1" cy="691.0" r="4.4"/><circle cx="427.9" cy="691.2" r="4.4"/><circle cx="429.7" cy="691.4" r="4.4"/><circle cx="431.5" cy="691.6" r="4.4"/><circle cx="433.3" cy="691.8" r="4.4"/><circle cx="435.1" cy="692.0" r="4.4"/><circle cx="436.9" cy="692.2" r="4.4"/><circle cx="438.8" cy="692.4" r="4.4"/><circle cx="440.6" cy="692.6" r="4.4"/><circle cx="442.4" cy="692.7" r="4.4"/><circle cx="444.2" cy="692.9" r="4.4"/><circle cx="446.0" cy="693.1" r="4.4"/><circle cx="447.8" cy="693.2" r="4.4"/><circle cx="449.6" cy="693.4" r="4.4"/><circle cx="451.4" cy="693.5" r="4.4"/><circle cx="453.2" cy="693.7" r="4.4"/><circle cx="455.1" cy="693.8" r="4.4"/><circle cx="456.9" cy="694.0" r="4.4"/><circle cx="458.7" cy="694.1" r="4.4"/><circle cx="460.5" cy="694.2" r="4.4"/><circle cx="462.3" cy="694.4" r="4.4"/><circle cx="464.1" cy="694.5" r="4.4"/><circle cx="465.9" cy="694.6" r="4.4"/><circle cx="467.7" cy="694.7" r="4.4"/><circle cx="469.6" cy="694.8" r="4.4"/><circle cx="471.4" cy="694.9" r="4.4"/><circle cx="473.2" cy="695.0" r="4.4"/><circle cx="475.0" cy="695.1" r="4.4"/><circle cx="476.8" cy="695.2" r="4.4"/><circle cx="478.6" cy="695.3" r="4.4"/><circle cx="480.4" cy="695.4" r="4.4"/><circle cx="482.2" cy="695.5" r="4.4"/><circle cx="484.0" cy="695.6" r="4.4"/><circle cx="485.9" cy="695.7" r="4.4"/><circle cx="487.7" cy="695.8" r="4.4"/><circle cx="489.5" cy="695.9" r="4.4"/><circle cx="491.3" cy="695.9" r="4.4"/><circle cx="493.1" cy="696.0" r="4.4"/><circle cx="494.9" cy="696.1" r="4.4"/><circle cx="496.7" cy="696.2" r="4.4"/><circle cx="498.5" cy="696.2" r="4.4"/><circle cx="500.3" cy="696.3" r="4.4"/><circle cx="502.2" cy="696.4" r="4.4"/><circle cx="504.0" cy="696.5" r="4.4"/><circle cx="505.8" cy="696.5" r="4.4"/><circle cx="507.6" cy="696.6" r="4.4"/><circle cx="509.4" cy="696.7" r="4.4"/><circle cx="511.2" cy="696.7" r="4.4"/><circle cx="513.0" cy="696.8" r="4.4"/><circle cx="514.8" cy="696.8" r="4.4"/><circle cx="516.7" cy="696.9" r="4.4"/><circle cx="518.5" cy="697.0" r="4.4"/><circle cx="520.3" cy="697.0" r="4.4"/><circle cx="522.1" cy="697.1" r="4.4"/><circle cx="523.9" cy="697.1" r="4.4"/><circle cx="529.3" cy="697.3" r="4.4"/><circle cx="534.8" cy="697.4" r="4.4"/><circle cx="540.2" cy="697.5" r="4.4"/><circle cx="545.6" cy="697.6" r="4.4"/><circle cx="552.9" cy="697.8" r="4.4"/><circle cx="560.1" cy="697.9" r="4.4"/><circle cx="567.4" cy="698.0" r="4.4"/><circle cx="574.6" cy="698.1" r="4.4"/><circle cx="581.9" cy="698.2" r="4.4"/><circle cx="589.1" cy="698.3" r="4.4"/><circle cx="596.4" cy="698.4" r="4.4"/><circle cx="603.6" cy="698.5" r="4.4"/><circle cx="610.9" cy="698.6" r="4.4"/><circle cx="618.1" cy="698.7" r="4.4"/><circle cx="625.4" cy="698.7" r="4.4"/><circle cx="632.6" cy="698.8" r="4.4"/></g>
</g>
<line x1="410.1" y1="130.4" x2="410.1" y2="220.2" stroke="#000" stroke-width="2.2" stroke-dasharray="8.2 8.1" stroke-dashoffset="0.0"/>
<line x1="230.5" y1="298.9" x2="230.5" y2="463.8" stroke="#000" stroke-width="2.2" stroke-dasharray="8.2 8.1" stroke-dashoffset="0.0"/>
<line x1="209.8" y1="571.0" x2="209.8" y2="701.8" stroke="#000" stroke-width="2.2" stroke-dasharray="8.2 8.1" stroke-dashoffset="7.8"/>
<line x1="163.2" y1="101.1" x2="147.9" y2="113.6" stroke="#000" stroke-width="0.9"/>
<polygon points="137.4,122.2 143.7,108.5 152.1,118.7" fill="#000"/>
<line x1="204.6" y1="207.0" x2="147.2" y2="203.9" stroke="#000" stroke-width="0.9"/>
<polygon points="133.1,203.1 147.5,197.4 146.8,210.4" fill="#000"/>
<line x1="171.7" y1="295.1" x2="151.0" y2="309.7" stroke="#000" stroke-width="0.9"/>
<polygon points="139.9,317.6 147.2,304.4 154.8,315.1" fill="#000"/>
<line x1="286.9" y1="362.2" x2="197.4" y2="379.0" stroke="#000" stroke-width="0.9"/>
<polygon points="184.0,381.5 196.2,372.5 198.6,385.5" fill="#000"/>
<line x1="181.6" y1="540.1" x2="160.8" y2="554.3" stroke="#000" stroke-width="0.9"/>
<polygon points="149.5,561.9 157.0,548.8 164.5,559.7" fill="#000"/>
<line x1="287.7" y1="639.4" x2="195.1" y2="644.7" stroke="#000" stroke-width="0.9"/>
<polygon points="181.5,645.5 194.7,638.1 195.5,651.3" fill="#000"/>
<g font-family="Liberation Sans, sans-serif" font-size="21" fill="#000">
<text transform="translate(3.0,30.8) scale(1,1.040)" text-anchor="start" >(a)</text>
<text transform="translate(3.0,257.8) scale(1,1.040)" text-anchor="start" >(b)</text>
<text transform="translate(3.0,488.6) scale(1,1.040)" text-anchor="start" >(c)</text>
<text transform="translate(80.3,233.3) scale(1,1.040)" text-anchor="end" >0.0</text>
<text transform="translate(80.3,155.1) scale(1,1.040)" text-anchor="end" >0.3</text>
<text transform="translate(80.3,76.9) scale(1,1.040)" text-anchor="end" >0.6</text>
<text transform="translate(80.3,471.6) scale(1,1.040)" text-anchor="end" >0.0</text>
<text transform="translate(80.3,263.0) scale(1,1.040)" text-anchor="end" >0.1</text>
<text transform="translate(80.3,709.6) scale(1,1.040)" text-anchor="end" >0.00</text>
<text transform="translate(80.3,640.2) scale(1,1.040)" text-anchor="end" >0.01</text>
<text transform="translate(80.3,570.9) scale(1,1.040)" text-anchor="end" >0.02</text>
<text transform="translate(80.3,500.7) scale(1,1.040)" text-anchor="end" >0.03</text>
<text transform="translate(89.5,728.0) scale(1,1.040)" text-anchor="middle" >0</text>
<text transform="translate(270.7,728.0) scale(1,1.040)" text-anchor="middle" >50</text>
<text transform="translate(451.8,728.0) scale(1,1.040)" text-anchor="middle" >100</text>
<text transform="translate(633.8,728.0) scale(1,1.040)" text-anchor="middle" >150</text>
<text transform="translate(362.0,756.8) scale(1,1.040)" text-anchor="middle" ><tspan font-style="italic">T</tspan> (K)</text>
<text transform="translate(24.9,121.7) rotate(-90) scale(1,1.040)" text-anchor="middle" letter-spacing="0.15"><tspan font-style="italic">M</tspan> (&#956;<tspan font-size="15.5" dy="6.6" dx="0">B</tspan><tspan dy="-6.6" font-size="1">&#8203;</tspan>/f.u.)</text>
<text transform="translate(24.9,360.0) rotate(-90) scale(1,1.040)" text-anchor="middle" letter-spacing="0.35"><tspan font-style="italic">M</tspan> (&#956;<tspan font-size="15.5" dy="6.6" dx="0">B</tspan><tspan dy="-6.6" font-size="1">&#8203;</tspan> / f.u.)</text>
<text transform="translate(24.9,598.0) rotate(-90) scale(1,1.040)" text-anchor="middle" letter-spacing="0.35"><tspan font-style="italic">M</tspan> (&#956;<tspan font-size="15.5" dy="6.6" dx="0">B</tspan><tspan dy="-6.6" font-size="1">&#8203;</tspan> / f.u.)</text>
<text transform="translate(412.3,46.2) scale(1,1.040)" text-anchor="start" >(Nd<tspan font-size="15.5" dy="6.6" dx="0">1-x</tspan><tspan dy="-6.6" font-size="1">&#8203;</tspan>Ca<tspan font-size="15.5" dy="6.6" dx="0">x</tspan><tspan dy="-6.6" font-size="1">&#8203;</tspan>)<tspan font-size="15.5" dy="6.6" dx="0">2</tspan><tspan dy="-6.6" font-size="1">&#8203;</tspan>Mo<tspan font-size="15.5" dy="6.6" dx="0">2</tspan><tspan dy="-6.6" font-size="1">&#8203;</tspan>O<tspan font-size="15.5" dy="6.6" dx="0">7</tspan><tspan dy="-6.6" font-size="1">&#8203;</tspan></text>
<text transform="translate(413.7,79.8) scale(1,1.040)" text-anchor="start" ><tspan font-style="italic">x</tspan> = 0.01<tspan font-style="italic">,</tspan> <tspan dx="1.3"><tspan font-style="italic">&#956;</tspan></tspan><tspan font-size="15.5" dy="6.6" dx="0">0</tspan><tspan dy="-6.6" font-size="1">&#8203;</tspan><tspan font-style="italic">H</tspan> = <tspan dx="1.5">0.01</tspan> <tspan dx="2.3">T</tspan></text>
<text transform="translate(413.7,113.2) scale(1,1.040)" text-anchor="start" ><tspan font-style="italic" font-weight="bold">H</tspan><tspan font-style="italic"> // </tspan><tspan dx="-0.8">&#10216;</tspan>001&#10217;</text>
<text transform="translate(424.2,163.4) scale(1,1.040)" text-anchor="start" ><tspan font-style="italic">T</tspan><tspan font-size="15.5" dy="6.6" dx="-1.2">C</tspan><tspan dy="-6.6" font-size="1">&#8203;</tspan> = 88.5 K</text>
<text transform="translate(155.0,67.9) scale(1,1.040)" text-anchor="start" >high-field</text>
<text transform="translate(155.0,94.6) scale(1,1.040)" text-anchor="start" >cooled</text>
<text transform="translate(213.2,214.0) scale(1,1.040)" text-anchor="start" >field-cooled</text>
<text transform="translate(503.3,286.5) scale(1,1.040)" text-anchor="start" ><tspan font-style="italic">x</tspan> = 0.22</text>
<text transform="translate(502.7,313.5) scale(1,1.040)" text-anchor="start" ><tspan font-style="italic">&#956;</tspan><tspan font-size="15.5" dy="6.6" dx="0">0</tspan><tspan dy="-6.6" font-size="1">&#8203;</tspan><tspan font-style="italic">H</tspan> = 0.01 <tspan dx="0.8">T</tspan></text>
<text transform="translate(502.5,348.0) scale(1,1.040)" text-anchor="start" ><tspan font-style="italic" font-weight="bold">H</tspan><tspan font-style="italic"> // </tspan><tspan dx="-0.8">&#10216;</tspan>001&#10217;</text>
<text transform="translate(173.8,281.8) scale(1,1.040)" text-anchor="start" >high-field</text>
<text transform="translate(173.8,308.9) scale(1,1.040)" text-anchor="start" >cooled</text>
<text transform="translate(288.0,367.0) scale(1,1.040)" text-anchor="start" >field-cooled</text>
<text transform="translate(133.0,447.5) scale(1,1.040)" text-anchor="start" ><tspan font-style="italic">T</tspan><tspan font-size="15.5" dy="6.6" dx="-1.2">G</tspan><tspan dy="-6.6" font-size="1">&#8203;</tspan> = 38 K</text>
<text transform="translate(503.3,524.5) scale(1,1.040)" text-anchor="start" ><tspan font-style="italic">x</tspan> = 0.40</text>
<text transform="translate(502.7,551.5) scale(1,1.040)" text-anchor="start" ><tspan font-style="italic">&#956;</tspan><tspan font-size="15.5" dy="6.6" dx="0">0</tspan><tspan dy="-6.6" font-size="1">&#8203;</tspan><tspan font-style="italic">H</tspan> = 0.01 <tspan dx="0.8">T</tspan></text>
<text transform="translate(502.5,585.8) scale(1,1.040)" text-anchor="start" ><tspan font-style="italic" font-weight="bold">H</tspan><tspan font-style="italic"> // </tspan><tspan dx="-0.8">&#10216;</tspan>001&#10217;</text>
<text transform="translate(183.2,525.8) scale(1,1.040)" text-anchor="start" >high-field</text>
<text transform="translate(183.2,553.3) scale(1,1.040)" text-anchor="start" >cooled</text>
<text transform="translate(298.3,646.0) scale(1,1.040)" text-anchor="start" >field-cooled</text>
<text transform="translate(110.8,684.1) scale(1,1.040)" text-anchor="start" ><tspan font-style="italic">T</tspan><tspan font-size="15.5" dy="6.6" dx="-1.2">G</tspan><tspan dy="-6.6" font-size="1">&#8203;</tspan> = 38 K</text>
</g>
</svg>
</body></html>
